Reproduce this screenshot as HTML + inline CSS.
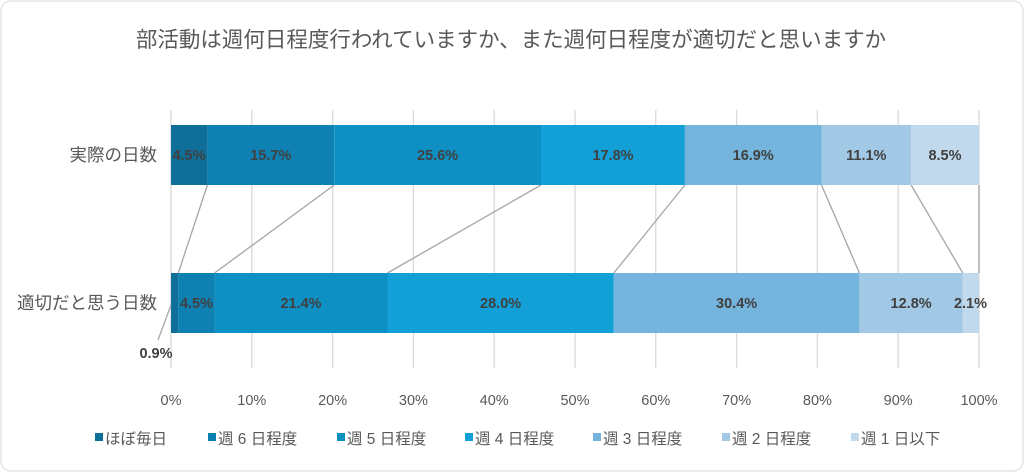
<!DOCTYPE html>
<html><head><meta charset="utf-8"><style>
body{margin:0;background:#fff}
svg{display:block;font-family:"Liberation Sans","Noto Sans CJK JP",sans-serif}
</style></head><body>
<svg width="1024" height="472" viewBox="0 0 1024 472">
<rect x="1" y="1" width="1022" height="470" rx="10" fill="#fff" stroke="#d9d9d9"/>
<text x="511" y="47" text-anchor="middle" font-size="21.5" fill="#595959">部活動は週何日程度行われていますか、また週何日程度が適切だと思いますか</text>
<g stroke="#d9d9d9" stroke-width="1.3">
<line x1="171" y1="110" x2="171" y2="368"/><line x1="251.8" y1="110" x2="251.8" y2="368"/><line x1="332.6" y1="110" x2="332.6" y2="368"/><line x1="413.4" y1="110" x2="413.4" y2="368"/><line x1="494.2" y1="110" x2="494.2" y2="368"/><line x1="575" y1="110" x2="575" y2="368"/><line x1="655.8" y1="110" x2="655.8" y2="368"/><line x1="736.6" y1="110" x2="736.6" y2="368"/><line x1="817.4" y1="110" x2="817.4" y2="368"/><line x1="898.2" y1="110" x2="898.2" y2="368"/><line x1="979" y1="110" x2="979" y2="368"/>
</g>
<g stroke="#a6a6a6" stroke-width="1.3">
<line x1="207.4" y1="185" x2="178.3" y2="273"/><line x1="334.2" y1="185" x2="214.6" y2="273"/><line x1="541" y1="185" x2="387.5" y2="273"/><line x1="684.9" y1="185" x2="613.8" y2="273"/><line x1="821.5" y1="185" x2="859.4" y2="273"/><line x1="911.1" y1="185" x2="962.8" y2="273"/><line x1="979" y1="185" x2="979" y2="273"/>
<line x1="171" y1="305" x2="158" y2="340"/>
</g>
<g>
<rect x="171" y="125" width="36.4" height="60" fill="#0f6f98"/>
<rect x="207.4" y="125" width="126.8" height="60" fill="#0e80b1"/>
<rect x="334.2" y="125" width="206.8" height="60" fill="#0f90c5"/>
<rect x="541" y="125" width="143.9" height="60" fill="#12a0d7"/>
<rect x="684.9" y="125" width="136.6" height="60" fill="#74b4dd"/>
<rect x="821.5" y="125" width="89.6" height="60" fill="#a1c8e5"/>
<rect x="911.1" y="125" width="67.9" height="60" fill="#c1d9ed"/>
<rect x="171" y="273" width="7.3" height="60" fill="#0f6f98"/>
<rect x="178.3" y="273" width="36.3" height="60" fill="#0e80b1"/>
<rect x="214.6" y="273" width="172.9" height="60" fill="#0f90c5"/>
<rect x="387.5" y="273" width="226.3" height="60" fill="#12a0d7"/>
<rect x="613.8" y="273" width="245.6" height="60" fill="#74b4dd"/>
<rect x="859.4" y="273" width="103.4" height="60" fill="#a1c8e5"/>
<rect x="962.8" y="273" width="16.2" height="60" fill="#c1d9ed"/>
</g>
<g font-size="14.5" font-weight="bold" fill="#404040" text-anchor="middle">
<text x="189" y="160">4.5%</text><text x="270.8" y="160">15.7%</text><text x="437.6" y="160">25.6%</text><text x="613" y="160">17.8%</text><text x="753.2" y="160">16.9%</text><text x="866.3" y="160">11.1%</text><text x="945" y="160">8.5%</text>
<text x="196.5" y="308">4.5%</text><text x="301" y="308">21.4%</text><text x="500.6" y="308">28.0%</text><text x="736.6" y="308">30.4%</text><text x="911.1" y="308">12.8%</text><text x="970.5" y="308">2.1%</text>
<text x="156" y="358">0.9%</text>
</g>
<g font-size="17.5" fill="#595959" text-anchor="end">
<text x="157" y="161">実際の日数</text>
<text x="157" y="309">適切だと思う日数</text>
</g>
<g font-size="14.5" fill="#595959" text-anchor="middle">
<text x="171" y="405">0%</text><text x="251.8" y="405">10%</text><text x="332.6" y="405">20%</text><text x="413.4" y="405">30%</text><text x="494.2" y="405">40%</text><text x="575" y="405">50%</text><text x="655.8" y="405">60%</text><text x="736.6" y="405">70%</text><text x="817.4" y="405">80%</text><text x="898.2" y="405">90%</text><text x="979" y="405">100%</text>
</g>
<g font-size="15.5" fill="#595959">
<rect x="95" y="433" width="8" height="8" fill="#0f6f98"/><text x="105" y="444">ほぼ毎日</text>
<rect x="208" y="433" width="8" height="8" fill="#0e80b1"/><text x="218" y="444">週 6 日程度</text>
<rect x="337" y="433" width="8" height="8" fill="#0f90c5"/><text x="347" y="444">週 5 日程度</text>
<rect x="465" y="433" width="8" height="8" fill="#12a0d7"/><text x="475" y="444">週 4 日程度</text>
<rect x="593" y="433" width="8" height="8" fill="#74b4dd"/><text x="603" y="444">週 3 日程度</text>
<rect x="722" y="433" width="8" height="8" fill="#a1c8e5"/><text x="732" y="444">週 2 日程度</text>
<rect x="851" y="433" width="8" height="8" fill="#c1d9ed"/><text x="861" y="444">週 1 日以下</text>
</g>
</svg>
</body></html>
